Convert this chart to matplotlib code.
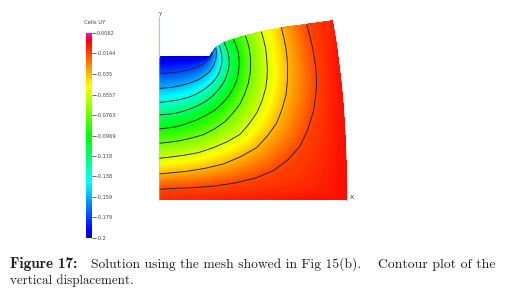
import numpy as np
import matplotlib
matplotlib.use("Agg")
import matplotlib.pyplot as plt
from matplotlib.colors import LinearSegmentedColormap, Normalize
from matplotlib.cm import ScalarMappable

W, H = 507, 289

# colour bar
bar_ticks = [0.0062, -0.0144, -0.035, -0.0557, -0.0763, -0.0969, -0.118, -0.138, -0.159, -0.179, -0.2]
bar_labels = ["0.0062", "-0.0144", "-0.035", "-0.0557", "-0.0763", "-0.0969", "-0.118", "-0.138", "-0.159", "-0.179", "-0.2"]

# mesh rows follow the contours; columns run from the left edge to the top edge
levels = [-0.179, -0.159, -0.138, -0.118, -0.0969, -0.0763, -0.0557, -0.035, -0.0144]
notch_x = [27, 44, 60, 80, 100, 120, 140, 153, 165, 172, 178, 179, 180, 180, 180, 180, 180]
notch_y = [155, 155, 155, 155, 155, 155, 155, 155, 155, 155, 155, 155, 154, 154, 154, 153, 153]
notch_v = [-0.2] * 17
l1_x = [27, 48, 70, 90, 110, 126, 140, 151, 160, 167, 172, 177, 180, 182, 184, 185, 186]
l1_y = [205, 204.5, 203, 200, 196, 192, 187, 182, 177, 172, 167, 162, 157, 154, 150, 146, 143]
l2_x = [27, 48, 70, 90, 110, 128, 145, 159, 170, 180, 187, 192, 196, 198, 199, 199, 197]
l2_y = [250, 248.5, 246, 242, 237, 231, 224, 216, 207, 198, 188, 178, 168, 158, 148, 138, 128]
l3_x = [27, 48, 70, 93, 115, 136, 155, 171, 185, 196, 205, 211, 215, 216, 215, 212, 208]
l3_y = [292, 290, 287, 283, 277, 269, 258, 247, 235, 222, 208, 193, 178, 163, 148, 135, 122]
l4_x = [27, 50, 75, 100, 125, 148, 170, 189, 205, 218, 228, 234, 238, 237, 234, 229, 222]
l4_y = [330, 328, 325, 318.5, 310, 299.5, 287, 272, 255, 237, 218, 198, 178, 160, 142, 127, 112]
l5_x = [27, 53, 80, 110, 140, 168, 195, 216, 235, 249, 260, 265, 268, 267, 264, 258, 250]
l5_y = [372, 369, 365, 356, 345, 331, 315, 296, 275, 252, 228, 203, 178, 158, 138, 120, 103]
l6_x = [27, 58, 90, 125, 160, 193, 225, 249, 270, 284, 295, 300, 302, 301, 298, 293, 286]
l6_y = [415, 411.5, 407, 399, 389, 372, 350, 324, 297, 267, 235, 208, 180, 156, 132, 112, 92]
l7_x = [27, 63, 100, 145, 190, 232, 270, 297, 320, 336, 347, 351, 352, 350, 347, 341, 334]
l7_y = [460, 456, 451, 443, 428, 410, 388, 357, 324, 288, 250, 220, 190, 160, 130, 105, 80]
l8_x = [27, 68, 110, 165, 220, 272, 320, 353, 380, 396, 408, 412, 413, 411, 407, 401, 394]
l8_y = [507, 503, 499, 490, 477, 455, 428, 392, 354, 313, 270, 230, 190, 157, 125, 96, 68]
l9_x = [27, 78, 130, 195, 260, 317, 370, 414, 450, 473, 490, 497, 500, 497, 490, 481, 470]
l9_y = [553, 550, 548, 543, 533, 519, 497, 464, 424, 375, 320, 275, 230, 185, 140, 98, 58]
outer_x = [27, 113, 200, 300, 400, 495, 590, 590, 589, 587, 584, 580, 574, 568, 562, 555, 547]
outer_y = [585, 585, 585, 585, 585, 585, 585, 542, 500, 435, 370, 305, 240, 190, 140, 93, 47]
outer_v = [-0.011, -0.009, -0.008, -0.007, -0.006, -0.005, -0.004, -0.004, -0.004,
           -0.004, -0.004, -0.004, -0.005, -0.005, -0.006, -0.007, -0.008]

X = np.array([notch_x, l1_x, l2_x, l3_x, l4_x, l5_x, l6_x, l7_x, l8_x, l9_x, outer_x], float)
Y = np.array([notch_y, l1_y, l2_y, l3_y, l4_y, l5_y, l6_y, l7_y, l8_y, l9_y, outer_y], float)
Z = np.array([notch_v] + [[v] * 17 for v in levels] + [outer_v])

cmap = LinearSegmentedColormap.from_list("uy", [
    (0.00, (0.0, 0.0, 0.78)), (0.04, (0.0, 0.0, 1.0)), (0.27, (0.0, 1.0, 1.0)),
    (0.50, (0.0, 1.0, 0.0)), (0.74, (1.0, 1.0, 0.0)), (0.96, (1.0, 0.0, 0.0)),
    (0.98, (1.0, 0.0, 0.25)), (1.00, (1.0, 0.0, 1.0))], N=512)
norm = Normalize(-0.2, 0.0062)

fig = plt.figure(figsize=(W / 100, H / 100), dpi=100, facecolor="white")

# main plot: axes spans the reference's pixel area of the domain
ax = fig.add_axes([150 / W, (H - 205) / H, 220 / W, 200 / H])
ax.set_xlim(0, 660)
ax.set_ylim(600, 0)
ax.axis("off")
ax.contourf(X, Y, Z, levels=np.linspace(-0.2, 0.0062, 200), cmap=cmap, norm=norm, antialiased=False)

# smooth the outline of the filled region with thin strokes in the local colour
for r in range(X.shape[0] - 1):
    ax.plot(X[r:r + 2, -1], Y[r:r + 2, -1], lw=0.7, solid_capstyle="round",
            color=cmap(norm(Z[r:r + 2, -1].mean())))
ax.plot(X[-1, 6:], Y[-1, 6:], lw=0.7, color=cmap(norm(Z[-1, 6:].mean())))

ax.contour(X, Y, Z, levels=levels, colors="#202020", linewidths=0.65, linestyles="solid")
ax.plot([27, 27], [35, 155], color="#7fe89a", lw=0.9)
ax.plot([27, 27], [155, 585], color="#7fe89a", lw=0.9, alpha=0.5)
ax.text(31, 28, "Y", fontsize=3.8, ha="center", va="center", color="#303030")
ax.text(605, 578, "X", fontsize=4.5, ha="center", va="center", color="#303030")

# colour bar
cax = fig.add_axes([86 / W, (H - 238) / H, 6 / W, 205 / H])
cb = fig.colorbar(ScalarMappable(norm=norm, cmap=cmap), cax=cax)
cb.set_ticks(bar_ticks)
cb.set_ticklabels(bar_labels)
cb.outline.set_visible(False)
cb.ax.tick_params(length=3, width=0.5, pad=0.5, labelsize=3.6, color="#303030", labelcolor="#404040")
fig.text(84 / W, 1 - 22 / H, "Cells UY", fontsize=3.8, color="#404040", va="center")

# caption
def cap(x, y, s, font="cmr10", size=9.75):
    fig.text(x / W, 1 - y / H, s, family=font, fontsize=size, color="#202020", va="baseline")

cap(9.5, 268, "Figure 17:", "cmb10", 10.9)
cap(90.7, 268, "Solution using the mesh showed in Fig 15(b).")
cap(377.5, 268, "Contour plot of the", size=9.9)
cap(9.5, 284, "vertical displacement.", size=9.4)

fig.savefig("out.png", dpi=100)
